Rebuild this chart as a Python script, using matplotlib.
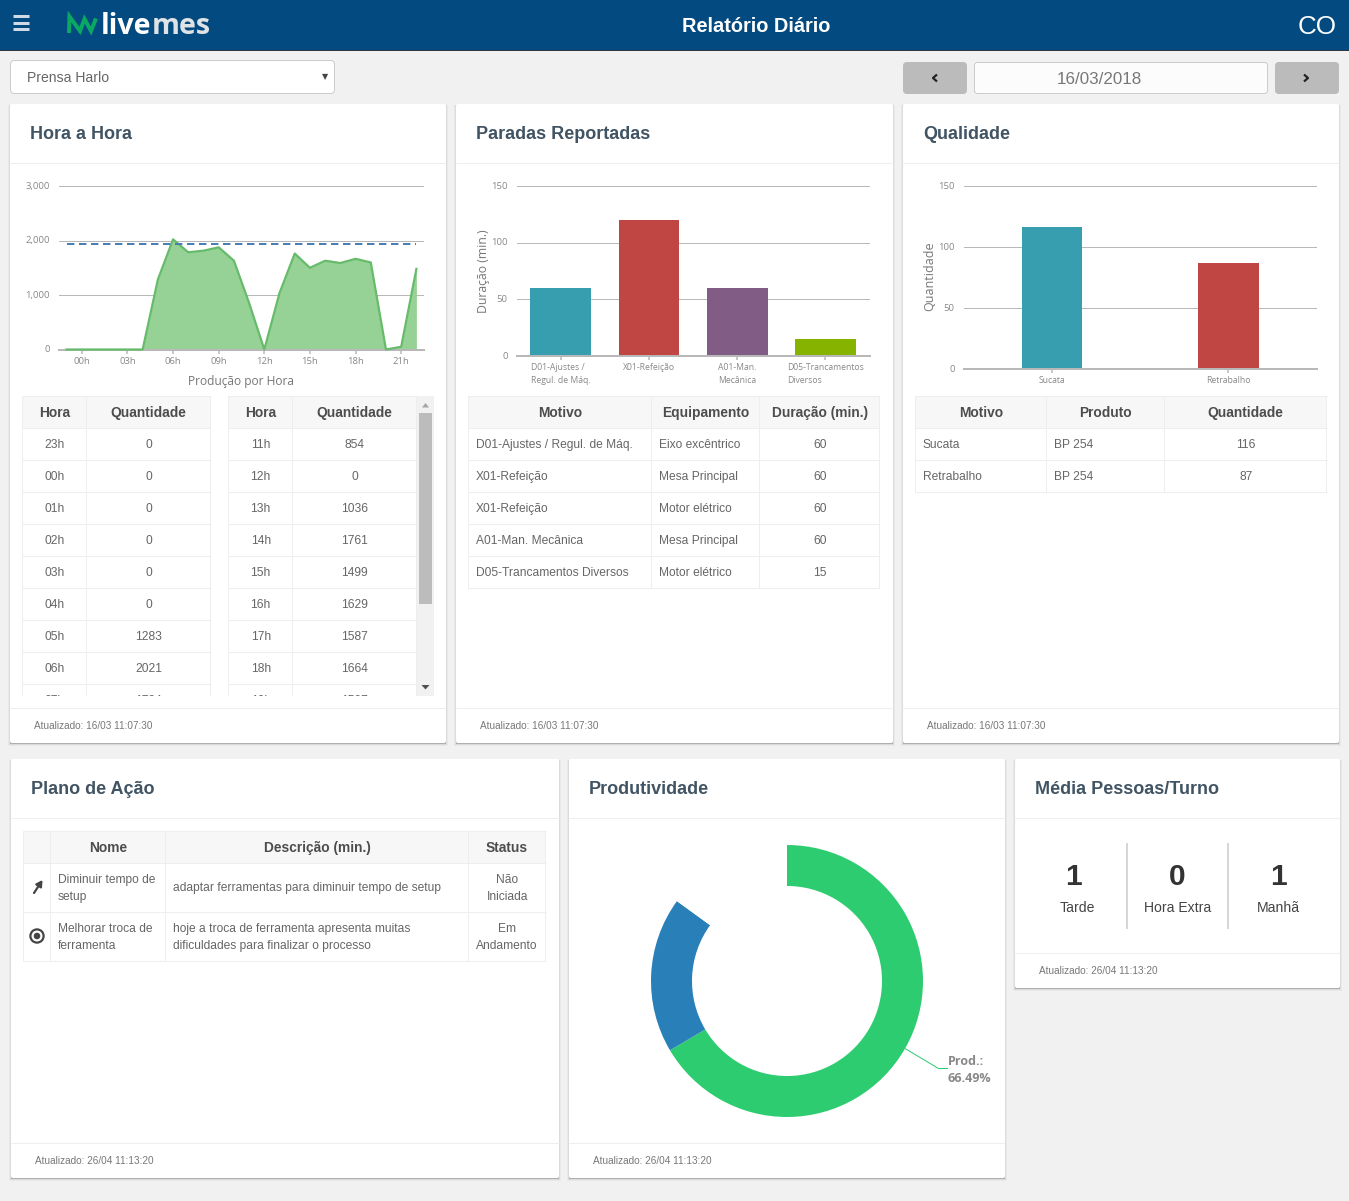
import matplotlib
matplotlib.use("Agg")
import matplotlib.pyplot as plt
from matplotlib.patches import Rectangle, FancyBboxPatch, Circle
from matplotlib.lines import Line2D
from matplotlib.transforms import ScaledTranslation

W, H = 1349, 1201

# ---------- data ----------
hour_labels = ["23h","00h","01h","02h","03h","04h","05h","06h","07h","08h","09h","10h",
               "11h","12h","13h","14h","15h","16h","17h","18h","19h","20h","21h","22h"]
hour_values = [0,0,0,0,0,0,1283,2021,1784,1813,1875,1630,854,0,1036,1761,1499,1629,1587,1664,1597,0,50,1480]
hour_target = 1930
hour_ticks = ["00h","03h","06h","09h","12h","15h","18h","21h"]

stop_labels = ["D01-Ajustes /\nRegul. de Máq.", "X01-Refeição", "A01-Man.\nMecânica", "D05-Trancamentos\nDiversos"]
stop_values = [60, 120, 60, 15]
stop_colors = ["#369eae", "#c04644", "#815d85", "#86b300"]

qual_labels = ["Sucata", "Retrabalho"]
qual_values = [116, 87]
qual_colors = ["#369eae", "#c04644"]

prod_values = [66.49, 18.5, 15.01]
prod_colors = ["#2ecc71", "#2980b9", "#ffffff"]

table_hours_a = [[hour_labels[i], str(hour_values[i])] for i in range(9)]
table_hours_b = [[hour_labels[i], str(hour_values[i])] for i in range(12, 21)]

stop_header = ["Motivo", "Equipamento", "Duração (min.)"]
stop_rows = [["D01-Ajustes / Regul. de Máq.", "Eixo excêntrico", "60"],
             ["X01-Refeição", "Mesa Principal", "60"],
             ["X01-Refeição", "Motor elétrico", "60"],
             ["A01-Man. Mecânica", "Mesa Principal", "60"],
             ["D05-Trancamentos Diversos", "Motor elétrico", "15"]]
qual_header = ["Motivo", "Produto", "Quantidade"]
qual_rows = [["Sucata", "BP 254", "116"], ["Retrabalho", "BP 254", "87"]]
plan_header = ["", "Nome", "Descrição (min.)", "Status"]
plan_rows = [["", "Diminuir tempo de\nsetup", "adaptar ferramentas para diminuir tempo de setup", "Não\nIniciada"],
             ["", "Melhorar troca de\nferramenta", "hoje a troca de ferramenta apresenta muitas\ndificuldades para finalizar o processo", "Em\nAndamento"]]
shift_names = ["Tarde", "Hora Extra", "Manhã"]
shift_values = [1, 0, 1]

# ---------- helpers ----------
def px(v):
    return v * 0.72

fig = plt.figure(figsize=(W / 100, H / 100), dpi=100, facecolor="#f1f1f1")
bg = fig.add_axes([0, 0, 1, 1])
bg.set_xlim(0, W)
bg.set_ylim(H, 0)
bg.axis("off")

ARIAL = "Liberation Sans"
OPEN = "Open Sans"

def T(x, y, s, size=12, color="#666666", ha="left", va="center", weight="normal",
      family=ARIAL, clip=None, **kw):
    t = bg.text(x, y, s, fontsize=px(size), color=color, ha=ha, va=va, weight=weight,
                family=family, **kw)
    if clip is not None:
        t.set_clip_path(clip)
        t.set_clip_on(True)
    return t

def rect(x0, y0, x1, y1, color, z=1, alpha=1.0):
    bg.add_patch(Rectangle((x0, y0), x1 - x0, y1 - y0, facecolor=color, edgecolor="none",
                           zorder=z, alpha=alpha))

def rrect(x0, y0, x1, y1, face, edge="none", r=3, z=2):
    bg.add_patch(FancyBboxPatch((x0 + r, y0 + r), x1 - x0 - 2 * r, y1 - y0 - 2 * r,
                                boxstyle=f"round,pad={r},rounding_size={r}",
                                facecolor=face, edgecolor=edge, linewidth=px(1), zorder=z))

def line(xs, ys, color="#eeeeee", w=1, z=3, **kw):
    l = Line2D(xs, ys, color=color, lw=px(w), zorder=z, solid_capstyle="butt", **kw)
    bg.add_line(l)
    return l

def card(x0, y0, x1, y1, title, head_y, foot_y, foot):
    for dx, dy, a in ((2, 3, 0.03), (1, 2, 0.06), (0, 1, 0.20)):
        rect(x0 - dx, y0 + 1, x1 + dx, y1 + dy, "#000000", z=1, alpha=a)
    rrect(x0, y0, x1, y1, "#ffffff", r=2, z=2)
    line([x0, x1], [head_y, head_y], "#eeeeee")
    line([x0, x1], [foot_y, foot_y], "#eeeeee")
    T(x0 + 20, (y0 + head_y) / 2 + 1.3, title, size=18, color="#415463", weight="bold", zorder=5)
    T(x0 + 24, (foot_y + y1) / 2 + 0.5, foot, size=10.05, color="#777777", zorder=5)

def table(col_x, row_y, header, rows, aligns, clip_bottom=None, size=12):
    clip = None
    bottom = row_y[-1]
    if clip_bottom is not None:
        bottom = clip_bottom
        clip = Rectangle((col_x[0], row_y[0]), col_x[-1] - col_x[0] + 1, clip_bottom - row_y[0],
                         transform=bg.transData)
    rect(col_x[0], row_y[0], col_x[-1], row_y[1], "#f7f7f7", z=3)
    for x in col_x:
        line([x, x], [row_y[0], bottom], "#eeeeee", z=4)
    for y in row_y:
        if y <= bottom:
            line([col_x[0], col_x[-1] + 1], [y, y], "#eeeeee", z=4)
    for j, h in enumerate(header):
        T((col_x[j] + col_x[j + 1]) / 2 + .5, (row_y[0] + row_y[1]) / 2 + 1, h, size=13.8, color="#4d4d4d",
          ha="center", weight="bold", zorder=5)
    for i, r in enumerate(rows):
        yc = (row_y[i + 1] + row_y[i + 2]) / 2 + 1 if i + 2 < len(row_y) else row_y[i + 1] + 16
        for j, c in enumerate(r):
            if aligns[j] == "center":
                xp, ha = (col_x[j] + col_x[j + 1]) / 2 + .7, "center"
            else:
                xp, ha = col_x[j] + 8, "left"
            T(xp, yc, c, size=size, color="#666666", ha=ha, zorder=5, clip=clip,
              multialignment=ha, linespacing=1.55)

def chart_axes(x0, y0, x1, y1):
    ax = fig.add_axes([x0 / W, 1 - y1 / H, (x1 - x0) / W, (y1 - y0) / H])
    ax.patch.set_alpha(0)
    for s in ("top", "left", "right"):
        ax.spines[s].set_visible(False)
    ax.spines["bottom"].set_color("#b8b8b8")
    ax.spines["bottom"].set_linewidth(px(2))
    ax.set_axisbelow(True)
    ax.yaxis.grid(True, color="#b8b8b8", lw=px(1))
    ax.xaxis.grid(False)
    ax.tick_params(axis="y", length=0, pad=px(9), labelsize=px(9.5), labelcolor="#888888")
    ax.tick_params(axis="x", length=px(4), width=px(1.5), color="#b8b8b8", pad=px(3),
                   labelsize=px(9.5), labelcolor="#888888")
    return ax

def set_font(ax, size=None):
    for lab in ax.get_xticklabels() + ax.get_yticklabels():
        lab.set_family(OPEN)
    lift = ScaledTranslation(0, 0.007, fig.dpi_scale_trans)
    for lab in ax.get_yticklabels():
        lab.set_transform(lab.get_transform() + lift)
    if size:
        for lab in ax.get_xticklabels():
            lab.set_fontsize(px(size))

# ---------- top bar ----------
rect(0, 0, W, 50, "#024a80", z=1)
rect(0, 50, W, 51, "#2b3640", z=1)
for y in (16, 23, 29):
    line([13, 29], [y, y], "#cfdce6", w=3)
line([69, 69.5, 80, 84.5, 91, 96], [33, 16.5, 31, 19, 31, 18.5], "#0aa863", w=4, solid_joinstyle="miter")
T(101, 27, "live", size=28.5, color="#ffffff", weight="bold", family=OPEN, zorder=5)
T(151.5, 27, "mes", size=28.5, color="#dfe3e6", weight="bold", family=OPEN, zorder=5)
T(756, 26.5, "Relatório Diário", size=20, color="#ffffff", ha="center", weight="bold", zorder=5)
T(1337, 27, "CO", size=26, color="#ffffff", ha="right", zorder=5)

# ---------- controls ----------
rrect(10.5, 60.5, 334.5, 93.5, "#ffffff", edge="#cccccc", r=4)
T(27, 77.5, "Prensa Harlo", size=14, color="#666666", zorder=5)
T(325, 76.5, "▼", size=8, color="#444444", ha="center", family="DejaVu Sans", zorder=5)
rrect(903, 62, 967, 94, "#bbbbbb", r=4)
rrect(1275, 62, 1339, 94, "#bbbbbb", r=4)
rrect(974.5, 62.5, 1267.5, 93.5, "#fcfcfc", edge="#cccccc", r=3)
T(1099, 79, "16/03/2018", size=17, color="#777777", ha="center", zorder=5)
line([937, 933, 937], [74.5, 78, 81.5], "#222222", w=2.2)
line([1304, 1308, 1304], [74.5, 78, 81.5], "#222222", w=2.2)

# ---------- cards ----------
f1 = "Atualizado: 16/03 11:07:30"
f2 = "Atualizado: 26/04 11:13:20"
card(10, 104, 446, 743, "Hora a Hora", 163, 708, f1)
card(456, 104, 893, 743, "Paradas Reportadas", 163, 708, f1)
card(903, 104, 1339, 743, "Qualidade", 163, 708, f1)
card(11, 759, 559, 1178, "Plano de Ação", 818, 1143, f2)
card(569, 759, 1005, 1178, "Produtividade", 818, 1143, f2)
card(1015, 759, 1340, 988, "Média Pessoas/Turno", 818, 953, f2)

# ---------- hour chart ----------
ax = chart_axes(59, 186, 424, 349.5)
xs = list(range(len(hour_values)))
ax.fill_between(xs, hour_values, 0, color="#96d296", lw=0, zorder=2)
ax.plot(xs, hour_values, color="#66bb6a", lw=px(2.2), zorder=3, clip_on=False)
ax.plot([xs[0], xs[-1]], [hour_target, hour_target], color="#4a7fb5", lw=px(2),
        dashes=(3.7, 2.3), zorder=4)
ax.set_xlim(-0.5, len(hour_values) - 0.5)
ax.set_ylim(0, 3000)
ax.set_yticks([0, 1000, 2000, 3000], ["0", "1,000", "2,000", "3,000"])
ax.set_xticks([hour_labels.index(h) for h in hour_ticks], hour_ticks)
set_font(ax)
T(241.5, 381, "Produção por Hora", size=12, color="#777777", ha="center", family=OPEN, zorder=5)

# ---------- stops chart ----------
ax = chart_axes(516.6, 186, 869.6, 356)
xs = list(range(len(stop_values)))
ax.bar(xs, stop_values, width=0.69, color=stop_colors, zorder=2)
ax.set_xlim(-0.5, len(xs) - 0.5)
ax.set_ylim(0, 150)
ax.set_yticks([0, 50, 100, 150], ["0", "50", "100", "150"])
ax.set_xticks(xs, stop_labels, multialignment="left", linespacing=1.55)
set_font(ax, 8.7)
T(483, 271, "Duração (min.)", size=12.3, color="#777777", ha="center", rotation=90, family=OPEN, zorder=5)

# ---------- quality chart ----------
ax = chart_axes(963.7, 186, 1316.7, 369)
xs = list(range(len(qual_values)))
ax.bar(xs, qual_values, width=0.345, color=qual_colors, zorder=2)
ax.set_xlim(-0.5, len(xs) - 0.5)
ax.set_ylim(0, 150)
ax.set_yticks([0, 50, 100, 150], ["0", "50", "100", "150"])
ax.set_xticks(xs, qual_labels)
set_font(ax, 8.7)
T(930, 276.5, "Quantidade", size=12.5, color="#777777", ha="center", rotation=90, family=OPEN, zorder=5)

# ---------- tables ----------
row_y_hours = [396 + 32 * k for k in range(11)]
table([22, 86, 210], row_y_hours, ["Hora", "Quantidade"], table_hours_a, ["center", "center"], clip_bottom=696)
table([228, 292, 416], row_y_hours, ["Hora", "Quantidade"], table_hours_b, ["center", "center"], clip_bottom=696)
rect(417, 396, 434, 696, "#f1f1f1", z=3)
rect(419, 413, 432, 604, "#bcbcbc", z=4)
bg.fill([422, 425.5, 429], [407.5, 403, 407.5], color="#a5a5a5", zorder=5, lw=0)
bg.fill([421.5, 425.5, 429.5], [685, 689.5, 685], color="#505050", zorder=5, lw=0)

table([468, 651, 759, 879], [396 + 32 * k for k in range(7)], stop_header, stop_rows, ["left", "left", "center"])
table([915, 1046, 1164, 1326], [396 + 32 * k for k in range(4)], qual_header, qual_rows, ["left", "left", "center"])
table([23, 50, 165, 468, 545], [831, 863, 912, 961], plan_header, plan_rows, ["left", "left", "left", "center"])

# plan icons
bg.annotate("", xy=(42.5, 880), xytext=(34, 893), zorder=6,
            arrowprops=dict(arrowstyle="-|>,head_width=0.2,head_length=0.35", color="#444444", lw=px(2.2),
                            shrinkA=0, shrinkB=0))
bg.add_patch(Circle((37, 936), 6.6, facecolor="none", edgecolor="#444444", lw=px(2.2), zorder=6))
bg.add_patch(Circle((37, 936), 3.3, facecolor="#444444", edgecolor="none", zorder=6))

# ---------- donut ----------
R, r_in = 136, 95
ax = fig.add_axes([(787 - R) / W, 1 - (981 + R) / H, 2 * R / W, 2 * R / H])
ax.pie(prod_values, colors=prod_colors, startangle=90, counterclock=False, radius=1,
       wedgeprops=dict(width=(R - r_in) / R, linewidth=0))
ax.set_xlim(-1, 1)
ax.set_ylim(-1, 1)
ax.patch.set_alpha(0)
line([905, 938.5, 948], [1048.5, 1068.5, 1068.5], "#2ecc71", w=1)
T(948, 1061.5, "Prod.:", size=12.5, color="#888888", weight="bold", family=OPEN, zorder=5)
T(948, 1078, f"{prod_values[0]:.2f}%", size=12.5, color="#888888", weight="bold", family=OPEN, zorder=5)

# ---------- shifts ----------
for x in (1127, 1228):
    line([x, x], [843, 929], "#d6d6d6", w=2)
for xn, xl, n, v in zip((1073.5, 1177, 1278), (1077, 1177.5, 1278), shift_names, shift_values):
    T(xn, 877, str(v), size=30, color="#333333", ha="center", weight="bold", zorder=5)
    T(xl, 907.5, n, size=14, color="#444444", ha="center", zorder=5)

fig.savefig("out.png", dpi=100, facecolor=fig.get_facecolor())
